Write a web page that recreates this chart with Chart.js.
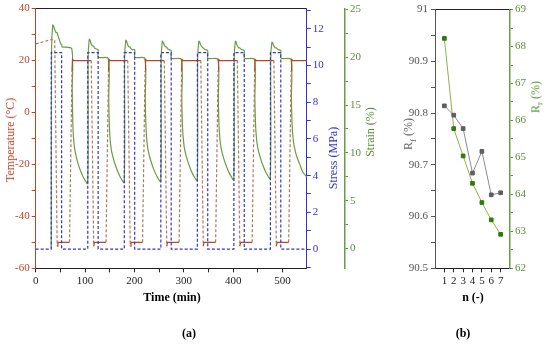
<!DOCTYPE html>
<html>
<head>
<meta charset="utf-8">
<script src="https://cdn.jsdelivr.net/npm/chart.js@4.4.0/dist/chart.umd.min.js"></script>
<style>
body { margin: 0; width: 550px; height: 346px; background: #fff; position: relative; overflow: hidden; font-family: "Liberation Serif", serif; }
canvas { position: absolute; top: 0; }
.t { position: absolute; white-space: nowrap; font-size: 12px; line-height: 1; }
.v { transform: translate(-50%, -50%) rotate(-90deg); }
.h { transform: translate(-50%, -50%); }
.b { font-weight: bold; }
sub { font-size: 9px; }
</style>
</head>
<body>
<canvas id="chartA" width="390" height="346" style="left:0"></canvas>
<canvas id="chartB" width="160" height="346" style="left:390px"></canvas>

<div class="t v" style="left:10px;top:140px;color:#b4462c">Temperature (°C)</div>
<div class="t v" style="left:333px;top:158px;color:#3434c8">Stress (MPa)</div>
<div class="t v" style="left:370px;top:132px;color:#5d8f3a">Strain (%)</div>
<div class="t h b" style="left:172px;top:297px">Time (min)</div>
<div class="t h b" style="left:189px;top:333px">(a)</div>
<div class="t v" style="left:410px;top:134px;color:#666">R<sub>f</sub> (%)</div>
<div class="t v" style="left:537px;top:97px;color:#5d8f3a">R<sub>r</sub> (%)</div>
<div class="t h b" style="left:473px;top:297px">n (-)</div>
<div class="t h b" style="left:463px;top:333px">(b)</div>

<script>
// panel (a): temperature, stress and strain against time (min)
const tempTime = [0, 30, 38.5, 43.5, 45, 68.5, 73.5, 74.5, 77,
    112.5, 117.5, 119, 142.5, 147.5, 148.5, 151,
    186.5, 191.5, 193, 216.5, 221.5, 222.5, 225,
    260.5, 265.5, 267, 290.5, 295.5, 296.5, 299,
    334.5, 339.5, 341, 364.5, 369.5, 370.5, 373,
    408.5, 413.5, 415, 438.5, 443.5, 444.5, 447,
    482.5, 487.5, 489, 512.5, 517.5, 518.5, 521, 549];
const tempVals = [26.4, 28, 28, -51.5, -50, -50, 16, 20.4, 20,
    20, -51.5, -50, -50, 16, 20.4, 20,
    20, -51.5, -50, -50, 16, 20.4, 20,
    20, -51.5, -50, -50, 16, 20.4, 20,
    20, -51.5, -50, -50, 16, 20.4, 20,
    20, -51.5, -50, -50, 16, 20.4, 20,
    20, -51.5, -50, -50, 16, 20.4, 20, 20];

const stressTime = [0, 31.5, 31.5, 52.5, 52.5, 105.5, 105.5, 126.5, 126.5, 179.5, 179.5, 200.5, 200.5,
    253.5, 253.5, 274.5, 274.5, 327.5, 327.5, 348.5, 348.5, 401.5, 401.5, 422.5, 422.5,
    475.5, 475.5, 496.5, 496.5, 549];
const stressVals = [0, 0, 10.7, 10.7, 0, 0, 10.7, 10.7, 0, 0, 10.7, 10.7, 0,
    0, 10.7, 10.7, 0, 0, 10.7, 10.7, 0, 0, 10.7, 10.7, 0,
    0, 10.7, 10.7, 0, 0];

const strainTime = [31.5, 32.2, 34.5, 36, 38.5, 41, 43, 45, 48, 51, 53, 53.3, 73, 74, 75.5, 77.5, 80, 85, 91, 97, 105.3,
    106.2, 108.5, 110, 112.5, 115, 117, 119, 122, 126.5, 127, 147, 148, 149.5, 151.5, 154, 159, 165, 171, 179.3,
    180.2, 182.5, 184, 186.5, 189, 191, 193, 196, 200.5, 201, 221, 222, 223.5, 225.5, 228, 233, 239, 245, 253.3,
    254.2, 256.5, 258, 260.5, 263, 265, 267, 270, 274.5, 275, 295, 296, 297.5, 299.5, 302, 307, 313, 319, 327.3,
    328.2, 330.5, 332, 334.5, 337, 339, 341, 344, 348.5, 349, 369, 370, 371.5, 373.5, 376, 381, 387, 393, 401.3,
    402.2, 404.5, 406, 408.5, 411, 413, 415, 418, 422.5, 423, 443, 444, 445.5, 447.5, 450, 455, 461, 467, 475.3,
    476.2, 478.5, 480, 482.5, 485, 487, 489, 492, 496.5, 497, 517, 518, 519.5, 521.5, 524, 529, 535, 541, 549];
const strainVals = [0, 21, 23.4, 23.3, 22.9, 22.6, 22.6, 22.3, 21.8, 21.4, 21.3, 21.1, 20.9, 16.5, 12.6, 11, 10.1, 9, 8.1, 7.4, 6.8,
    20, 21.9, 21.8, 21.4, 21.2, 21.2, 21.0, 20.9, 20.8, 20.0, 19.9, 15.5, 12.5, 11, 10.1, 9.1, 8.2, 7.5, 6.9,
    20, 21.8, 21.7, 21.3, 21.1, 21.1, 20.9, 20.8, 20.8, 20.0, 19.9, 15.5, 12.6, 11.1, 10.2, 9.2, 8.3, 7.6, 7.0,
    20, 21.7, 21.6, 21.3, 21.1, 21.1, 20.9, 20.8, 20.7, 19.9, 19.8, 15.5, 12.6, 11.2, 10.3, 9.3, 8.4, 7.7, 7.1,
    20, 21.7, 21.6, 21.3, 21.1, 21.0, 20.9, 20.8, 20.7, 19.9, 19.8, 15.5, 12.7, 11.3, 10.4, 9.4, 8.5, 7.8, 7.2,
    20, 21.7, 21.6, 21.2, 21.0, 21.0, 20.9, 20.8, 20.7, 19.9, 19.8, 15.6, 12.8, 11.4, 10.5, 9.5, 8.6, 7.9, 7.3,
    20, 21.6, 21.5, 21.2, 21.0, 21.0, 20.9, 20.8, 20.7, 19.9, 19.8, 15.7, 12.9, 11.5, 10.6, 9.6, 8.8, 8.0, 7.5];

// tick positions (major ones get a label)
const timeTicks = [0, 50, 100, 150, 200, 250, 300, 350, 400, 450, 500];
const tempTicks = [-60, -50, -40, -30, -20, -10, 0, 10, 20, 30, 40];
const stressTicks = [-1, 0, 1, 2, 3, 4, 5, 6, 7, 8, 9, 10, 11, 12, 13];
const strainTicks = [0, 2.5, 5, 7.5, 10, 12.5, 15, 17.5, 20, 22.5, 25];

// panel (b): fixity / recovery ratio per cycle
const cycles = [1, 2, 3, 4, 5, 6, 7];
const rfVals = [90.814, 90.796, 90.770, 90.684, 90.726, 90.642, 90.646];
const rrVals = [68.22, 65.78, 65.04, 64.30, 63.78, 63.31, 62.92];
const rfTicks = [90.5, 90.55, 90.6, 90.65, 90.7, 90.75, 90.8, 90.85, 90.9, 90.95, 91];
const rrTicks = [62, 62.5, 63, 63.5, 64, 64.5, 65, 65.5, 66, 66.5, 67, 67.5, 68, 68.5, 69];

const RED = '#b4462c', BLUE = '#3434c8', GREEN = '#5d8f3a';
const tickFont = { family: 'Liberation Serif', size: 11 };
const pairs = (xs, ys) => xs.map((x, i) => ({ x: x, y: ys[i] }));
const useTicks = list => s => { s.ticks = list.map(v => ({ value: v })); };
const every = step => v => (Math.abs(v / step - Math.round(v / step)) < 1e-6 ? String(Math.round(v * 10) / 10) : '');

Chart.defaults.font.family = 'Liberation Serif';

function axis(color, extra) {
    return Object.assign({
        type: 'linear',
        grid: { drawOnChartArea: false, tickLength: 4, color: color },
        border: { color: color, width: 1 },
    }, extra, {
        ticks: Object.assign({ color: color, font: tickFont, padding: 2, autoSkip: false, maxRotation: 0 }, extra.ticks)
    });
}

new Chart(document.getElementById('chartA').getContext('2d'), {
    type: 'line',
    data: {
        datasets: [
            {
                label: 'Stress', yAxisID: 'yS', data: pairs(stressTime, stressVals),
                borderColor: BLUE, borderWidth: 1.2, borderDash: [3, 2], pointRadius: 0, tension: 0
            },
            {
                label: 'Temperature', yAxisID: 'yT', data: pairs(tempTime, tempVals),
                borderColor: RED, borderWidth: 1.2, pointRadius: 0, tension: 0,
                segment: {
                    borderDash: ctx => (Math.abs(ctx.p1.parsed.y - ctx.p0.parsed.y) > 8 || ctx.p0.parsed.x < 31) ? [3, 2] : undefined,
                    borderColor: ctx => (Math.abs(ctx.p1.parsed.y - ctx.p0.parsed.y) > 8 || ctx.p0.parsed.x < 31) ? '#b0785a' : RED
                }
            },
            {
                label: 'Strain', yAxisID: 'yE', data: pairs(strainTime, strainVals),
                borderColor: '#6a9c45', borderWidth: 1.2, pointRadius: 0, tension: 0.25
            }
        ]
    },
    options: {
        responsive: false, animation: false, devicePixelRatio: 1,
        layout: { padding: 0 },
        plugins: { legend: { display: false }, tooltip: { enabled: false } },
        scales: {
            x: axis('#222', {
                min: 0, max: 549,
                ticks: { callback: every(100) },
                afterBuildTicks: useTicks(timeTicks),
                afterFit: s => { s.height = 77.7; }
            }),
            xTop: {
                type: 'linear', position: 'top', min: 0, max: 549,
                grid: { display: false }, border: { color: '#222' }, ticks: { display: false },
                afterFit: s => { s.height = 7.3; }
            },
            yT: axis(RED, {
                position: 'left', min: -60, max: 40,
                ticks: { callback: every(20) },
                afterBuildTicks: useTicks(tempTicks),
                afterFit: s => { s.width = 35.7; }
            }),
            yS: axis(BLUE, {
                position: 'right', min: -1.05, max: 13.1,
                ticks: { callback: every(2) },
                afterBuildTicks: useTicks(stressTicks),
                afterFit: s => { s.width = 38.3; }
            }),
            yE: axis(GREEN, {
                position: 'right', min: -2.08, max: 25.1,
                grid: { drawOnChartArea: false, tickLength: 3, color: GREEN },
                border: { color: '#6a9c45', width: 1.5 },
                ticks: { callback: every(5) },
                afterBuildTicks: useTicks(strainTicks),
                afterFit: s => { s.width = 45; }
            })
        }
    }
});

new Chart(document.getElementById('chartB').getContext('2d'), {
    type: 'line',
    data: {
        datasets: [
            {
                label: 'Rf', yAxisID: 'yF', data: pairs(cycles, rfVals),
                borderColor: '#8c8c8c', borderWidth: 1, pointStyle: 'rect', pointRadius: 2.6,
                pointBackgroundColor: '#5e5e5e', pointBorderColor: '#5e5e5e', tension: 0
            },
            {
                label: 'Rr', yAxisID: 'yR', data: pairs(cycles, rrVals),
                borderColor: '#8fb04a', borderWidth: 1, pointStyle: 'rect', pointRadius: 2.6,
                pointBackgroundColor: '#2f7a0c', pointBorderColor: '#2f7a0c', tension: 0
            }
        ]
    },
    options: {
        responsive: false, animation: false, devicePixelRatio: 1,
        layout: { padding: 0 },
        plugins: { legend: { display: false }, tooltip: { enabled: false } },
        scales: {
            x: axis('#222', {
                min: 0, max: 8,
                ticks: { callback: every(1) },
                afterBuildTicks: useTicks(cycles),
                afterFit: s => { s.height = 77.7; }
            }),
            xTop: {
                type: 'linear', position: 'top', min: 0, max: 8,
                grid: { display: false }, border: { color: '#222' }, ticks: { display: false },
                afterFit: s => { s.height = 7.3; }
            },
            yF: axis('#555', {
                position: 'left', min: 90.5, max: 91,
                ticks: { padding: 3, callback: every(0.1) },
                afterBuildTicks: useTicks(rfTicks),
                afterFit: s => { s.width = 45; }
            }),
            yR: axis(GREEN, {
                position: 'right', min: 62, max: 69,
                grid: { drawOnChartArea: false, tickLength: 3, color: GREEN },
                border: { color: '#6a9c45', width: 1.5 },
                ticks: { callback: every(1) },
                afterBuildTicks: useTicks(rrTicks),
                afterFit: s => { s.width = 40; }
            })
        }
    }
});
</script>
</body>
</html>
